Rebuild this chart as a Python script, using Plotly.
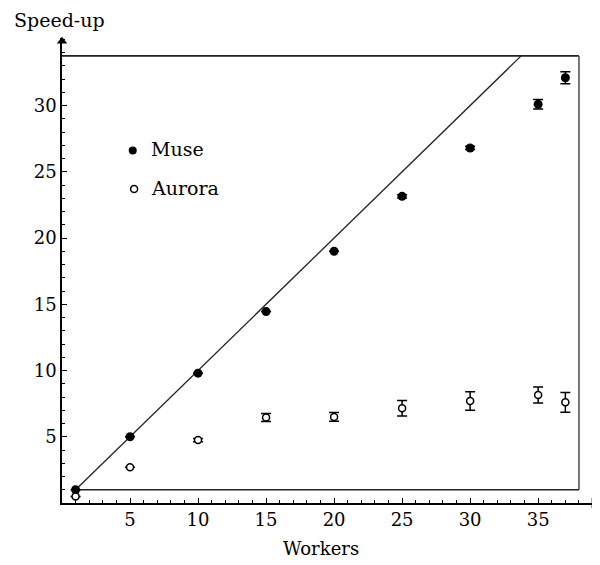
import plotly.graph_objects as go

# Data
muse_x = [1, 5, 10, 15, 20, 25, 30, 35, 37]
muse_y = [1.0, 5.0, 9.8, 14.45, 19.0, 23.15, 26.8, 30.1, 32.1]
muse_err = [0, 0, 0, 0, 0, 0.12, 0.12, 0.35, 0.45]

aurora_x = [1, 5, 10, 15, 20, 25, 30, 35, 37]
aurora_y = [0.5, 2.7, 4.75, 6.45, 6.5, 7.15, 7.7, 8.15, 7.6]
aurora_err = [0, 0, 0.12, 0.3, 0.33, 0.58, 0.7, 0.6, 0.75]

x_ticks = [5, 10, 15, 20, 25, 30, 35]
y_ticks = [5, 10, 15, 20, 25, 30]

ideal_x = [1, 33.75]
ideal_y = [1, 33.75]

FONT = "DejaVu Serif"

fig = go.Figure()

# frame lines (Mathematica-style box)
fig.add_trace(go.Scatter(x=[0, 38], y=[33.75, 33.75], mode="lines",
                         line=dict(color="#222", width=1.6), showlegend=False, hoverinfo="skip"))
fig.add_trace(go.Scatter(x=[38, 38], y=[1, 33.75], mode="lines",
                         line=dict(color="#555", width=1.6), showlegend=False, hoverinfo="skip"))
fig.add_trace(go.Scatter(x=[1, 38], y=[1, 1], mode="lines",
                         line=dict(color="#222", width=1.6), showlegend=False, hoverinfo="skip"))
# ideal speed-up line
fig.add_trace(go.Scatter(x=ideal_x, y=ideal_y, mode="lines",
                         line=dict(color="#222", width=1.3), showlegend=False, hoverinfo="skip"))

fig.add_trace(go.Scatter(
    x=muse_x, y=muse_y, mode="markers", name="Muse",
    marker=dict(color="black", size=9, symbol="circle"),
    error_y=dict(type="data", array=muse_err, visible=True, color="black", thickness=1.5, width=5),
    showlegend=False))

fig.add_trace(go.Scatter(
    x=aurora_x, y=aurora_y, mode="markers", name="Aurora",
    marker=dict(color="white", size=7, symbol="circle", line=dict(color="black", width=1.5)),
    error_y=dict(type="data", array=aurora_err, visible=True, color="black", thickness=1.5, width=5),
    showlegend=False))

# legend drawn in-plot
fig.add_trace(go.Scatter(x=[5.2], y=[26.6], mode="markers",
                         marker=dict(color="black", size=8), showlegend=False, hoverinfo="skip"))
fig.add_trace(go.Scatter(x=[5.3], y=[23.7], mode="markers",
                         marker=dict(color="white", size=7, line=dict(color="black", width=1.5)),
                         showlegend=False, hoverinfo="skip"))
fig.add_annotation(x=6.4, y=26.7, text="Muse", showarrow=False, xanchor="left", yanchor="middle",
                   font=dict(family=FONT, size=19, color="black"))
fig.add_annotation(x=6.4, y=23.8, text="Aurora", showarrow=False, xanchor="left", yanchor="middle",
                   font=dict(family=FONT, size=19, color="black"))

# axis arrowheads
fig.add_trace(go.Scatter(x=[39.1], y=[0], mode="markers", cliponaxis=False,
                         marker=dict(symbol="triangle-right", size=9, color="black"),
                         showlegend=False, hoverinfo="skip"))
fig.add_trace(go.Scatter(x=[0], y=[34.85], mode="markers", cliponaxis=False,
                         marker=dict(symbol="triangle-up", size=9, color="black"),
                         showlegend=False, hoverinfo="skip"))

fig.add_annotation(xref="paper", yref="paper", x=0.483, y=-0.097, text="Workers",
                   xanchor="center", yanchor="middle",
                   showarrow=False, font=dict(family=FONT, size=18, color="black"))
fig.add_annotation(xref="paper", yref="paper", x=-0.004, y=1.0387, text="Speed-up",
                   xanchor="center", yanchor="middle",
                   showarrow=False, font=dict(family=FONT, size=19, color="black"))

fig.update_layout(
    width=600, height=565,
    margin=dict(l=54, r=10, t=30, b=70),
    paper_bgcolor="white", plot_bgcolor="white",
    font=dict(family=FONT, size=18, color="black"),
    xaxis=dict(range=[0, 39.4], tickvals=x_ticks, showgrid=False, zeroline=False,
               showline=True, linecolor="black", linewidth=1.5,
               ticks="inside", ticklen=5, tickcolor="black",
               minor=dict(dtick=1, ticks="inside", ticklen=3, tickcolor="black"),
               tickfont=dict(family=FONT, size=18)),
    yaxis=dict(range=[0, 35.1], tickvals=y_ticks, showgrid=False, zeroline=False,
               showline=True, linecolor="black", linewidth=1.5,
               ticks="inside", ticklen=5, tickcolor="black",
               minor=dict(dtick=1, ticks="inside", ticklen=3, tickcolor="black"),
               tickfont=dict(family=FONT, size=18)),
)

fig.write_html("out.html")
